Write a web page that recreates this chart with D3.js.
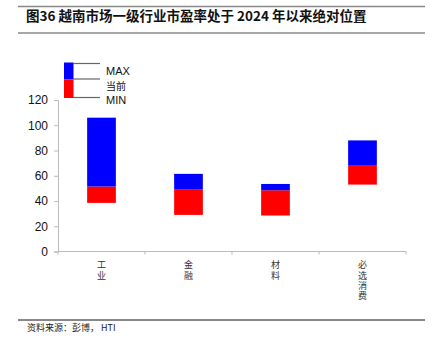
<!DOCTYPE html>
<html><head><meta charset="utf-8">
<script src="https://cdn.jsdelivr.net/npm/d3@7"></script>
<style>body{margin:0;background:#fff}svg{display:block}</style>
</head><body><svg id="c" width="436" height="349"></svg>
<script>
const categories = ["工业","金融","材料","必选消费"];
const maxVals = [106, 61.5, 53.5, 88];
const currentVals = [51.5, 49, 48.5, 68.5];
const minVals = [38.5, 29, 28.5, 53];
const yTicks = [0,20,40,60,80,100,120];
const legendLabels = ["MAX","当前","MIN"];

const svg = d3.select("#c");
const cjk = "'Noto Sans CJK SC', sans-serif";
const lat = "'Liberation Sans', Arial, sans-serif";

// title lines
svg.append("line").attr("x1",18).attr("x2",425).attr("y1",6.5).attr("y2",6.5).attr("stroke","#888").attr("stroke-width",1.5);
svg.append("line").attr("x1",18).attr("x2",425).attr("y1",33).attr("y2",33).attr("stroke","#888").attr("stroke-width",1.5);
svg.append("text").attr("x",26).attr("y",20.5).attr("font-family",cjk).attr("font-weight","bold").attr("font-size",13.5).attr("fill","#111")
  .text("图36 越南市场一级行业市盈率处于 2024 年以来绝对位置");

const x = d3.scaleBand().domain(categories).range([58,406]).paddingInner(0).paddingOuter(0);
const y = d3.scaleLinear().domain([0,120]).range([251.5,100]);

// y axis
const ya = svg.append("g").attr("transform","translate(58,0)").call(d3.axisLeft(y).tickValues(yTicks).tickSize(4).tickPadding(6));
ya.selectAll("path,line").attr("stroke","#bbb");
ya.selectAll("text").attr("font-family",lat).attr("font-size",12).attr("fill","#111");

// x axis
const xa = svg.append("g").attr("transform","translate(0,251.5)");
xa.append("line").attr("x1",58).attr("x2",406).attr("stroke","#bbb");
const bounds = categories.map(c=>x(c)).concat([x.range()[1]]);
xa.selectAll("line.t").data(bounds).join("line").attr("class","t").attr("x1",d=>d).attr("x2",d=>d).attr("y1",0).attr("y2",3).attr("stroke","#bbb");
xa.selectAll("text.cat").data(categories).join("text").attr("class","cat")
  .attr("x",c=>x(c)+x.bandwidth()/2).attr("y",9)
  .attr("font-family",cjk).attr("font-size",9).attr("fill","#333")
  .style("writing-mode","vertical-rl").style("text-orientation","upright")
  .style("letter-spacing","1.2px")
  .text(c=>c);

// bars
const bw = x.bandwidth()*0.33;
const data = categories.map((c,i)=>({c, max:maxVals[i], cur:currentVals[i], min:minVals[i]}));
svg.selectAll("rect.r").data(data).join("rect").attr("class","r")
  .attr("x",d=>x(d.c)+x.bandwidth()/2-bw/2).attr("width",bw)
  .attr("y",d=>y(d.cur)).attr("height",d=>y(d.min)-y(d.cur)).attr("fill","#ff0000");
svg.selectAll("rect.b").data(data).join("rect").attr("class","b")
  .attr("x",d=>x(d.c)+x.bandwidth()/2-bw/2).attr("width",bw)
  .attr("y",d=>y(d.max)).attr("height",d=>y(d.cur)-y(d.max)).attr("fill","#0000ff");

// legend
const lg = svg.append("g");
lg.append("rect").attr("x",64).attr("y",62.5).attr("width",9.5).attr("height",17).attr("fill","#0000ff");
lg.append("rect").attr("x",64).attr("y",79.5).attr("width",9.5).attr("height",18.5).attr("fill","#ff0000");
[63.5,79,97.5].forEach(yy=>lg.append("line").attr("x1",73).attr("x2",100).attr("y1",yy).attr("y2",yy).attr("stroke","#666").attr("stroke-width",1.2));
const ly = [71,86,100];
legendLabels.forEach((l,i)=>lg.append("text").attr("x",106).attr("y",ly[i]).attr("dy","0.35em")
  .attr("font-family", i===1?cjk:lat).attr("font-size", i===1?10:11).attr("fill","#111").text(l));

// footer
svg.append("line").attr("x1",18).attr("x2",425).attr("y1",320).attr("y2",320).attr("stroke","#111").attr("stroke-width",1);
svg.append("text").attr("x",27).attr("y",331).attr("font-family",cjk).attr("font-size",9).attr("fill","#222").text("资料来源：彭博， HTI");
</script></body></html>
